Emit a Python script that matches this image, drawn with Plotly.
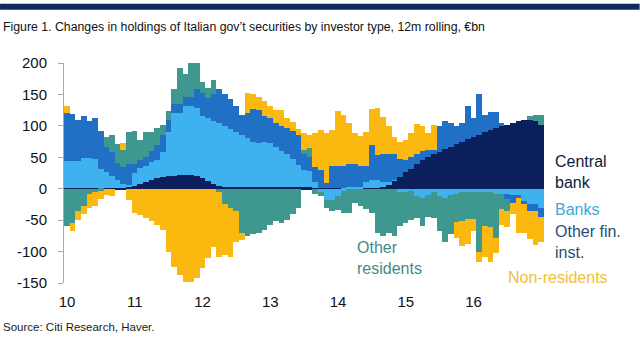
import plotly.graph_objects as go

# ---------------- data (monthly, Jan-2010 .. Jan-2017), EUR bn ----------------
months = list(range(85))
year_labels = ["10", "11", "12", "13", "14", "15", "16"]
y_ticks = [200, 150, 100, 50, 0, -50, -100, -150]
y_tick_text = ["200", "150", "100", "50", "0", "-50", "-100", "-150"]

central_bank = [1, 1, 1, 1, 1, 1, 1, 1, 1, 1, 1, 3,
                5, 8, 11, 14, 17, 19, 20, 21, 22, 22, 22, 21,
                17, 12, 8, 5, 3, 2, 2, 2, 2, 2, 2, 2,
                2, 2, 2, 2, 2, 2, 2, 2, 1, 1, 1, 1,
                1, 1, 1, 1, 1, 1, 1, 1, 3, 7, 13, 19,
                26, 32, 39, 46, 51, 55, 59, 63, 67, 71, 75, 79,
                83, 86, 90, 93, 96, 99, 102, 105, 107, 109, 110, 107,
                101]
banks = [43, 43, 43, 48, 48, 46, 31, 26, 20, 13, 6, 3,
         20, 25, 25, 28, 28, 39, 71, 100, 99, 110, 110, 108,
         99, 100, 100, 100, 97, 93, 88, 84, 78, 73, 70, 72,
         70, 64, 58, 53, 45, 36, 28, 26, 10, -6, -18, -18,
         -12, -3, 1, 1, 1, 10, 13, 13, 7, 3, 1, -5,
         -5, -4, -12, -14, -10, -6, -12, -14, -10, -8, -6, -6,
         -6, -6, -6, -6, -8, -8, -8, -10, -10, -20, -25, -25,
         -30]
other_fin = [77, 75, 65, 67, 58, 66, 60, 40, 38, 27, 27, 34,
             15, 12, 14, 18, 25, 27, 19, 14, 14, 14, 14, 30,
             37, 33, 42, 53, 50, 48, 42, 32, 40, 52, 53, 41,
             40, 39, 40, 42, 45, 47, 25, 22, 23, 28, 8, 35,
             35, 35, 37, 37, 34, 25, 55, 40, 45, 45, 41, 29,
             19, 18, 16, 14, 11, 7, 41, 45, 38, 29, 30, 53,
             30, 64, 28, 29, 26, 6, -8, -12, -5, -5, -10, -10,
             -15]
other_res = [-60, -55, -35, -28, -8, -5, -3, 16, 27, 30, 27, 50,
             52, 33, 40, 31, 27, 17, 14, 24, 57, 36, 54, 41,
             17, 15, 23, -5, -25, -30, -35, -70, -75, -72, -70, -65,
             -58, -52, -55, -50, -40, -30, 7, 15, -8, -5, -12, -18,
             -22, -35, -38, -22, -28, -32, -38, -70, -75, -70, -75, -55,
             -50, -45, -35, -45, -35, -40, -55, -70, -62, -45, -45, -42,
             -42, -95, -53, -55, -70, -25, -20, 0, 0, 0, 6, 10,
             17]
non_res = [11, -12, -15, -12, -22, -23, -14, -10, -12, 0, 12, -18,
           -38, -42, -46, -51, -58, -65, -100, -125, -138, -148, -148, -142,
           -126, -110, -92, -103, -80, -78, -50, -12, 32, 23, 21, 25,
           20, 20, 26, 15, 14, 10, 26, 20, 55, 65, 80, 58,
           88, 81, 65, 50, 48, 55, 58, 75, 59, 45, 27, 26,
           33, 38, 48, 40, 26, 40, 0, 0, 0, -25, -40, -40,
           -20, -15, -50, -55, -24, -25, -25, -18, -55, -45, -45, -55,
           -40]

series = [
    ("Central bank", central_bank, "#0b1f5c"),
    ("Banks", banks, "#3db2ee"),
    ("Other fin. inst.", other_fin, "#2070c6"),
    ("Other residents", other_res, "#3f9890"),
    ("Non-residents", non_res, "#fbb90f"),
]

fig = go.Figure()
for name, vals, col in series:
    fig.add_trace(go.Bar(x=months, y=vals, name=name, marker_color=col,
                         marker_line_width=0, width=1.0))

# plot area in pixels
L, R, T, B = 64, 544.3, 63.3, 283.3
W, H = 640, 361


def px(x):
    return (x - L) / (R - L)


def py(y):
    return (B - y) / (B - T)


FONT = "Liberation Sans, Arial, sans-serif"

fig.update_layout(
    width=W, height=H,
    margin=dict(l=L, r=W - R, t=T, b=H - B, pad=0),
    barmode="relative", bargap=0,
    plot_bgcolor="white", paper_bgcolor="white",
    showlegend=False,
    font=dict(family=FONT, size=15, color="#111111"),
    xaxis=dict(range=[-0.5, 84.5], showgrid=False, zeroline=False, showline=False,
               tickmode="array", tickvals=[12 * k - 0.5 for k in range(7)],
               ticktext=year_labels, ticks="", ticklabelshift=3, ticklabelstandoff=8,
               tickfont=dict(size=15, color="#111111")),
    yaxis=dict(range=[-150, 200], showgrid=False, tickmode="array", tickvals=y_ticks,
               ticktext=y_tick_text,
               ticks="outside", ticklen=5, tickcolor="#aaaaaa", tickwidth=1,
               showline=True, linecolor="#aaaaaa", linewidth=1,
               zeroline=True, zerolinecolor="#0b1f5c", zerolinewidth=1.5,
               ticklabelstandoff=8,
               tickfont=dict(size=15, color="#111111")),
)

# top navy band
fig.add_shape(type="rect", xref="paper", yref="paper", x0=px(0), x1=px(640),
              y0=py(10), y1=py(4), fillcolor="#0f2a60", line_width=0, layer="above")

ann = []


def text(x, y, s, color, size=15, family=FONT):
    ann.append(dict(xref="paper", yref="paper", x=px(x), y=py(y), text=s,
                    showarrow=False, xanchor="left", yanchor="middle",
                    font=dict(size=size, color=color, family=family), align="left"))


text(1, 27, "Figure 1. Changes in holdings of Italian gov\u2019t securities by investor type, 12m rolling, \u20acbn",
     "#111111", 12.3)
text(1, 327, "Source: Citi Research, Haver.", "#1a1a1a", 11.5)
text(553, 172, "Central<br>bank", "#0d1a3a", 16)
text(553, 210, "Banks", "#41a6d9", 16)
text(553, 242, "Other fin.<br>inst.", "#2a4a7c", 16)
text(355, 258, "Other<br>residents", "#3d8c88", 16)
text(506, 278, "Non-residents", "#f0c03a", 16)
fig.update_layout(annotations=ann)

fig.write_html("out.html", config={"displayModeBar": False},
               post_script="document.body.style.margin='0px';")
